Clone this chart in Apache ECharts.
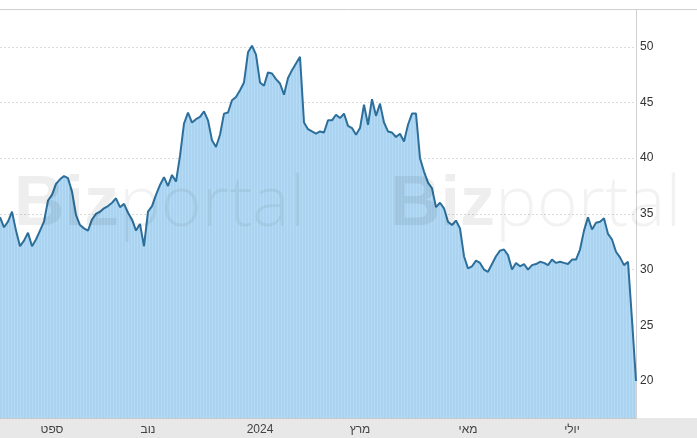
<!DOCTYPE html>
<html>
<head>
<meta charset="utf-8">
<script src="https://cdn.jsdelivr.net/npm/echarts@6/dist/echarts.min.js"></script>
<style>
html,body{margin:0;padding:0;background:#fff;}
#chart{width:697px;height:438px;}
</style>
</head>
<body>
<div id="chart"></div>
<script>
// Closing prices, one sample per ~2 trading days
const price = [
  34.7, 33.8, 34.3, 35.2, 33.5, 32.1, 32.6, 33.3, 32.1, 32.7,
  33.5, 34.3, 36.2, 36.7, 37.7, 38.1, 38.4, 38.2, 37.0, 34.9,
  34.0, 33.7, 33.5, 34.5, 35.0, 35.2, 35.5, 35.7, 36.0, 36.4,
  35.6, 35.9, 35.1, 34.5, 33.5, 34.1, 32.1, 35.2, 35.7, 36.7,
  37.6, 38.3, 37.5, 38.5, 37.9, 40.2, 43.1, 44.1, 43.2, 43.5,
  43.7, 44.2, 43.4, 41.6, 41.0, 42.1, 44.0, 44.1, 45.2, 45.5,
  46.1, 46.8, 49.5, 50.1, 49.3, 46.8, 46.5, 47.7, 47.6, 47.1,
  46.7, 45.7, 47.2, 47.9, 48.5, 49.1, 43.2, 42.6, 42.4, 42.2,
  42.4, 42.3, 43.4, 43.4, 43.9, 43.6, 44.0, 42.9, 42.7, 42.1,
  42.7, 44.8, 43.0, 45.3, 43.8, 44.9, 43.2, 42.4, 42.3, 41.9,
  42.2, 41.5, 43.0, 44.0, 44.0, 40.0, 38.8, 37.8, 37.3, 35.6,
  36.0, 35.5, 34.3, 34.0, 34.4, 33.7, 31.2, 30.1, 30.3, 30.8,
  30.6, 30.0, 29.8, 30.5, 31.2, 31.7, 31.8, 31.3, 30.0, 30.6,
  30.3, 30.5, 30.0, 30.4, 30.5, 30.7, 30.6, 30.4, 30.9, 30.6,
  30.7, 30.6, 30.5, 30.9, 30.9, 31.8, 33.5, 34.7, 33.6, 34.2,
  34.3, 34.6, 33.2, 32.7, 31.6, 31.1, 30.4, 30.7, 25.5, 20.0
];
// Month tick labels and the sample index they sit on
const monthLabels = ['ספט', 'נוב', '2024', 'מרץ', 'מאי', 'יולי'];
const monthIndex = [13, 37, 65, 90, 117, 143];
// Y-axis tick values
const yTicks = [20, 25, 30, 35, 40, 45, 50];

const categories = price.map((_, i) => String(i));

// subtle vertical stripe pattern for the area fill
const pc = document.createElement('canvas');
pc.width = 3; pc.height = 4;
const pctx = pc.getContext('2d');
pctx.fillStyle = '#a9d3f0'; pctx.fillRect(0, 0, 3, 4);
pctx.fillStyle = '#b6dbf4'; pctx.fillRect(2, 0, 1, 4);

const chart = echarts.init(document.getElementById('chart'), null, {renderer: 'canvas'});
const font = 'Arial, "Liberation Sans", "DejaVu Sans", sans-serif';

function watermark(x) {
  return {type: 'text', z: 100, x: x, y: 171, style: {
    text: '{b|Biz}{p|portal}',
    rich: {
      b: {fontSize: 70, fontWeight: 'bold', fontFamily: font, fill: 'rgba(0,0,0,0.065)'},
      p: {fontSize: 70, fontWeight: 300, fontFamily: '"Open Sans", Lato, sans-serif', fill: 'rgba(0,0,0,0.05)'}
    }
  }};
}

chart.setOption({
  animation: false,
  backgroundColor: '#fff',
  grid: {left: 0, right: 61, top: 10, bottom: 20, containLabel: false},
  xAxis: {
    type: 'category',
    data: categories,
    boundaryGap: false,
    axisLine: {show: true, lineStyle: {color: '#c8c8c8'}},
    axisTick: {show: false},
    splitLine: {show: false},
    axisLabel: {
      interval: (i) => monthIndex.indexOf(i) >= 0,
      formatter: (v, i) => monthLabels[monthIndex.indexOf(Number(v))] || '',
      color: '#444', fontSize: 12, fontFamily: font, margin: 6
    }
  },
  yAxis: {
    type: 'value',
    position: 'right',
    min: 16.68,
    max: 53.3,
    axisLine: {show: true, lineStyle: {color: '#d0d0d0'}},
    axisTick: {show: false, customValues: yTicks},
    splitLine: {show: true, lineStyle: {color: '#dcdcdc', type: [2, 2], width: 1}},
    axisLabel: {customValues: yTicks, color: '#333', fontSize: 12, fontFamily: font, margin: 4}
  },
  graphic: [
    {type: 'rect', z: -10, shape: {x: 0, y: 418, width: 697, height: 20}, style: {fill: '#e8e8e8'}},
    {type: 'line', z: 50, shape: {x1: 0, y1: 9.5, x2: 697, y2: 9.5}, style: {stroke: '#cfcfcf', lineWidth: 1}},
    watermark(14),
    watermark(390)
  ],
  series: [{
    type: 'line',
    data: price,
    symbol: 'none',
    smooth: false,
    lineStyle: {color: '#2d6f9b', width: 2},
    areaStyle: {color: {image: pc, repeat: 'repeat'}, opacity: 1, origin: 'start'}
  }]
});
</script>
</body>
</html>
